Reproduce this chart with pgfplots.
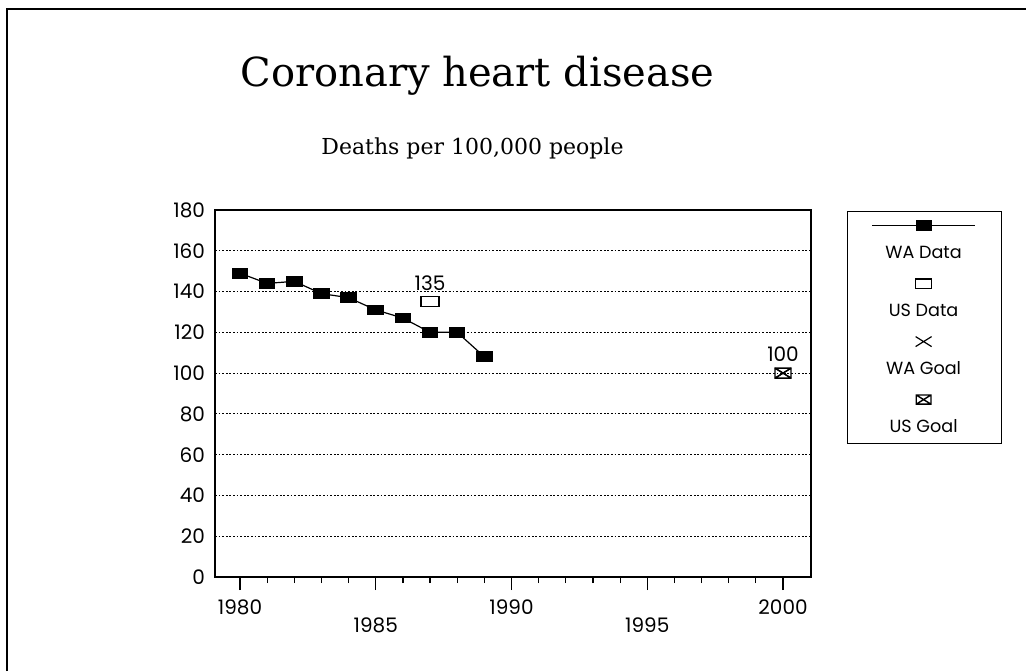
\documentclass[border=0pt]{standalone}
\usepackage{pgfplots}
\pgfplotsset{compat=1.18}
\usepackage{fontspec}
\setmainfont{Poppins}
\newfontfamily\serifT{DejaVu Serif}

\pgfdeclareplotmark{wsq*}{%
  \pgfpathrectangle{\pgfpoint{-1.6\pgfplotmarksize}{-\pgfplotmarksize}}{\pgfpoint{3.2\pgfplotmarksize}{2\pgfplotmarksize}}%
  \pgfusepathqfillstroke}
\pgfdeclareplotmark{wsq}{%
  \pgfsetcornersarced{\pgfpoint{0.8pt}{0.8pt}}%
  \pgfpathrectangle{\pgfpoint{-1.8\pgfplotmarksize}{-\pgfplotmarksize}}{\pgfpoint{3.6\pgfplotmarksize}{2\pgfplotmarksize}}%
  \pgfusepathqstroke}
\pgfdeclareplotmark{wx}{%
  \pgfpathmoveto{\pgfpoint{-1.6\pgfplotmarksize}{-\pgfplotmarksize}}\pgfpathlineto{\pgfpoint{1.6\pgfplotmarksize}{\pgfplotmarksize}}%
  \pgfpathmoveto{\pgfpoint{-1.6\pgfplotmarksize}{\pgfplotmarksize}}\pgfpathlineto{\pgfpoint{1.6\pgfplotmarksize}{-\pgfplotmarksize}}%
  \pgfusepathqstroke}
\pgfdeclareplotmark{boxx}{%
  \pgfpathrectangle{\pgfpoint{-1.6\pgfplotmarksize}{-\pgfplotmarksize}}{\pgfpoint{3.2\pgfplotmarksize}{2\pgfplotmarksize}}%
  \pgfpathmoveto{\pgfpoint{-1.6\pgfplotmarksize}{-\pgfplotmarksize}}\pgfpathlineto{\pgfpoint{1.6\pgfplotmarksize}{\pgfplotmarksize}}%
  \pgfpathmoveto{\pgfpoint{-1.6\pgfplotmarksize}{\pgfplotmarksize}}\pgfpathlineto{\pgfpoint{1.6\pgfplotmarksize}{-\pgfplotmarksize}}%
  \pgfusepathqstroke}

\newcommand{\legfont}{\fontsize{8.8}{10}\selectfont}
\newcommand{\tickfont}{\fontsize{10}{12}\selectfont}

\begin{document}
\begin{tikzpicture}
\useasboundingbox (0,0) rectangle (513pt,335.5pt);
\draw[line width=0.6pt] (3.5pt,0pt) -- (3.5pt,331pt) -- (513pt,331pt);
\node[anchor=base, font=\serifT\fontsize{20}{24}\selectfont] at (238.75pt,292pt) {Coronary heart disease};
\node[anchor=base, font=\serifT\fontsize{11}{13}\selectfont] at (236.25pt,258.5pt) {Deaths per 100,000 people};

\begin{axis}[
  at={(107.5pt,47pt)}, anchor=south west,
  scale only axis, width=298pt, height=183.5pt,
  xmin=1979.08, xmax=2001.03, ymin=0, ymax=180,
  xtick={1980,1990,2000},
  minor x tick num=9,
  extra x ticks={1985,1995},
  xticklabel style={yshift=-1.5pt},
  extra x tick style={tick label style={yshift=-9pt}},
  ytick={0,20,...,180},
  yticklabel style={xshift=5pt},
  ymajorgrids,
  grid style={dash pattern=on 0.9pt off 0.9pt, line width=0.6pt, black},
  axis line style={line width=0.8pt},
  tick align=outside, tick pos=left,
  major tick length=6.5pt, minor tick length=3pt,
  tick style={black, line width=0.6pt},
  ytick style={draw=none},
  tick label style={font=\tickfont},
  /pgf/number format/assume math mode=true,
  /pgf/number format/1000 sep={},
  legend style={at={(1.0604,0.9973)}, anchor=north west, draw=black,
    line width=0.6pt, inner sep=0pt, row sep=0pt, column sep=0pt,
    nodes={inner sep=0pt, outer sep=0pt},
    cells={anchor=center, inner sep=0pt, outer sep=0pt, draw=none}},
  nodes near coords style={font=\tickfont, anchor=south, yshift=2pt},
]
\addplot[black, line width=0.6pt, mark=wsq*, mark size=2.4pt,
  legend image code/.code={
    \path[draw=none, fill=none] (-38pt,-14.5pt) rectangle (38pt,14.5pt);
    \draw[line width=0.6pt] (-25.75pt,7.5pt) -- (25.75pt,7.5pt);
    \draw[mark size=2.3pt] plot[mark=wsq*] coordinates {(0pt,7.5pt)};
    \node[font=\legfont, inner sep=0pt, draw=none] at (0pt,-6.5pt) {WA Data};
  }] coordinates {
  (1980,149) (1981,144) (1982,145) (1983,139) (1984,137)
  (1985,131) (1986,127) (1987,120) (1988,120) (1989,108)
};
\addlegendentry{}
\addplot[black, only marks, mark=wsq, mark size=2.5pt, mark options={line width=0.6pt},
  nodes near coords,
  legend image code/.code={
    \path[draw=none, fill=none] (-38pt,-14.5pt) rectangle (38pt,14.5pt);
    \draw[line width=0.7pt, mark size=2.3pt] plot[mark=wsq] coordinates {(0pt,7.5pt)};
    \node[font=\legfont, inner sep=0pt, draw=none] at (0pt,-6.5pt) {US Data};
  }] coordinates {(1987,135)};
\addlegendentry{}
\addplot[black, only marks, mark=wx, mark size=2.5pt, mark options={line width=0.6pt},
  legend image code/.code={
    \path[draw=none, fill=none] (-38pt,-14.5pt) rectangle (38pt,14.5pt);
    \draw[line width=1.3pt, mark size=2.5pt] plot[mark=wx] coordinates {(0pt,7.5pt)};
    \node[font=\legfont, inner sep=0pt, draw=none] at (0pt,-6.5pt) {WA Goal};
  }] coordinates {(2000,100)};
\addlegendentry{}
\addplot[black, only marks, mark=boxx, mark size=2.5pt, mark options={line width=0.7pt},
  nodes near coords,
  legend image code/.code={
    \path[draw=none, fill=none] (-38pt,-14.5pt) rectangle (38pt,14.5pt);
    \draw[line width=0.7pt, mark size=2.3pt] plot[mark=boxx] coordinates {(0pt,7.5pt)};
    \node[font=\legfont, inner sep=0pt, draw=none] at (0pt,-6.5pt) {US Goal};
  }] coordinates {(2000,100)};
\addlegendentry{}
\end{axis}
\end{tikzpicture}
\end{document}
